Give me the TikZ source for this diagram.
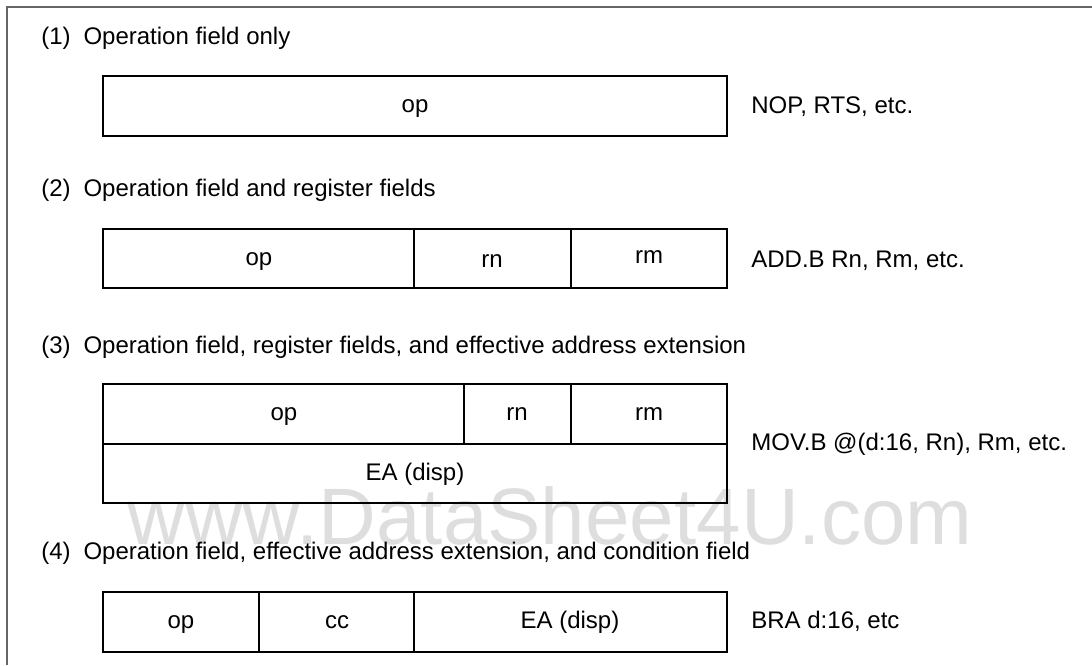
\documentclass[tikz,border=0pt]{standalone}
\usepackage{fontspec}
\setmainfont{Liberation Sans}
\usetikzlibrary{positioning}

\tikzset{
  field/.style={line width=1pt},
  frame/.style={line width=0.6pt, black!60},
  lbl/.style={inner sep=0pt, text height=8pt, text depth=2pt},
  head/.style={lbl, anchor=west},
  wmark/.style={inner sep=0pt, anchor=base west, black!13, font=\fontsize{40}{41}\selectfont}
}

\begin{document}
\begin{tikzpicture}[x=0.5pt, y=-0.5pt, font=\fontsize{12}{14}\selectfont]
  \useasboundingbox (0,0) rectangle (1092,665);

  % Watermark
  \node[wmark] (wm) at (127,544) {www.DataSheet4U.com};

  % Frame
  \draw[frame] (7,665) -- (7,7) -- (1092,7);

  % (1) op only
  \node[head] (n1) at (41,38) {(1)};
  \node[head, right=6pt of n1] (h1) {Operation field only};
  \draw[field] (103,76) rectangle (727,136);
  \node[lbl] (op1) at (415,106) {op};
  \node[head] (ex1) at (751,107) {NOP, RTS, etc.};

  % (2) op + registers
  \node[head] (n2) at (41,190) {(2)};
  \node[head, right=6pt of n2] (h2) {Operation field and register fields};
  \draw[field] (103,229) rectangle (727,288);
  \foreach \x in {414,571} {
    \draw[field] (\x,229) -- (\x,288);
  }
  \node[lbl] (op2) at (259,259) {op};
  \node[lbl] (rn2) at (492,261) {rn};
  \node[lbl] (rm2) at (649,257) {rm};
  \node[head] (ex2) at (751,261) {ADD.B Rn, Rm, etc.};

  % (3) op + registers + EA extension
  \node[head] (n3) at (41,347) {(3)};
  \node[head, right=6pt of n3] (h3) {Operation field, register fields, and effective address extension};
  \draw[field] (103,384) rectangle (727,503);
  \draw[field] (103,444) -- (727,444);
  \foreach \x in {464,571} {
    \draw[field] (\x,384) -- (\x,444);
  }
  \node[lbl] (op3) at (284,414) {op};
  \node[lbl] (rn3) at (517,414) {rn};
  \node[lbl] (rm3) at (649,414) {rm};
  \node[lbl] (ea3) at (415,474) {EA (disp)};
  \node[head] (ex3) at (751,444) {MOV.B @(d:16, Rn), Rm, etc.};

  % (4) op + EA extension + condition
  \node[head] (n4) at (41,553) {(4)};
  \node[head, right=6pt of n4] (h4) {Operation field, effective address extension, and condition field};
  \draw[field] (103,592) rectangle (727,652);
  \foreach \x in {259,414} {
    \draw[field] (\x,592) -- (\x,652);
  }
  \node[lbl] (op4) at (181,622) {op};
  \node[lbl] (cc4) at (337,622) {cc};
  \node[lbl] (ea4) at (570,622) {EA (disp)};
  \node[head] (ex4) at (751,622) {BRA d:16, etc};
\end{tikzpicture}
\end{document}
